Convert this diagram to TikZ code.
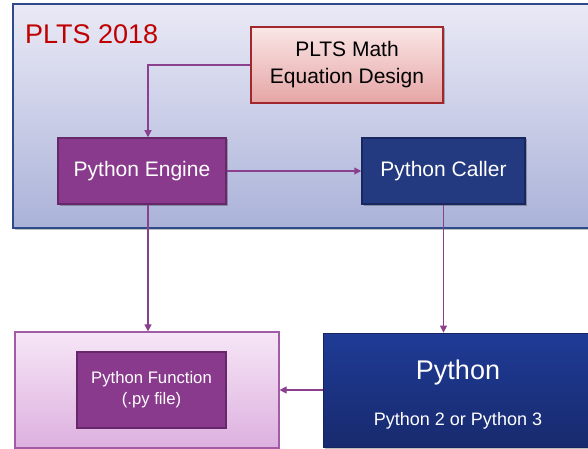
\documentclass[tikz,border=0pt]{standalone}
\usepackage{fontspec}
\setmainfont{Liberation Sans}
\usetikzlibrary{arrows.meta,shadows}
\definecolor{arr}{HTML}{8B3F8F}
\definecolor{plum}{HTML}{893A8C}
\definecolor{plumdk}{HTML}{66286A}
\definecolor{navy}{HTML}{243A80}
\definecolor{navydk}{HTML}{18285E}
\definecolor{redtxt}{HTML}{C00000}
\tikzset{
  box/.style={rectangle, minimum width=#1, inner sep=0pt},
  shad/.style={drop shadow={shadow xshift=1.5pt, shadow yshift=-1.5pt, opacity=0.25, fill=black}},
  conn/.style={draw=arr, line width=1.1pt, -{Triangle[width=7pt,length=7pt]}},
  lbl/.style={text=white, font=\fontsize{21}{27}\selectfont},
}
\begin{document}
\begin{tikzpicture}[x=1pt,y=-1pt]
\useasboundingbox (0,0) rectangle (588,449);
\fill[white] (0,0) rectangle (588,449);
% outer PLTS box
\node[box=577pt, minimum height=224pt, top color={rgb,255:red,234;green,234;blue,246}, bottom color={rgb,255:red,170;green,178;blue,216}, draw={rgb,255:red,47;green,74;blue,138}, line width=1.5pt, shad] (plts) at (301.5,116) {};
\node[anchor=base west, inner sep=0pt, text=redtxt, font=\fontsize{27}{31}\selectfont] (title) at (25,43.5) {PLTS 2018};
% math design
\node[box=192pt, minimum height=76pt, top color={rgb,255:red,250;green,230;blue,230}, bottom color={rgb,255:red,230;green,165;blue,165}, draw={rgb,255:red,160;green,40;blue,44}, line width=1.2pt, align=center, font=\fontsize{21}{27}\selectfont, shad] (math) at (347,65) {PLTS Math\\Equation Design};
% engine and caller
\node[box=168pt, minimum height=66pt, fill=plum, draw=plumdk, line width=1.5pt, lbl, shad] (engine) at (142,171) {Python Engine};
\node[box=163pt, minimum height=66pt, fill=navy, draw=navydk, line width=1.5pt, lbl, shad] (caller) at (443.5,171) {Python Caller};
% lower left light box
\node[box=264pt, minimum height=116pt, top color={rgb,255:red,246;green,230;blue,246}, bottom color={rgb,255:red,221;green,176;blue,223}, draw={rgb,255:red,162;green,92;blue,165}, line width=1.2pt] (light) at (147,390) {};
\node[box=149pt, minimum height=76pt, fill=plum, draw=plumdk, line width=1.5pt, text=white, align=center, font=\fontsize{16.7}{21}\selectfont] (func) at (151.5,390) {Python Function\\(.py file)};
% python box
\node[box=270pt, minimum height=114pt, top color={rgb,255:red,31;green,59;blue,150}, bottom color={rgb,255:red,24;green,42;blue,110}, draw={rgb,255:red,22;green,36;blue,96}, line width=0.8pt, shad] (py) at (458,390) {};
\node[anchor=base, inner sep=0pt, text=white, font=\fontsize{27}{32}\selectfont] (pytitle) at (458,379) {Python};
\node[anchor=base, inner sep=0pt, text=white, font=\fontsize{18}{22}\selectfont] (pysub) at (458,425) {Python 2 or Python 3};
% connectors
\draw[conn] (math.west) -| ([xshift=6pt]engine.north);
\draw[conn] (engine.east) -- (caller.west);
\draw[conn] ([xshift=6pt]engine.south) -- ([xshift=6pt]engine.south |- light.north);
\draw[conn] (caller.south) -- (caller.south |- py.north);
\draw[conn] (py.west) -- (light.east);
\end{tikzpicture}
\end{document}
